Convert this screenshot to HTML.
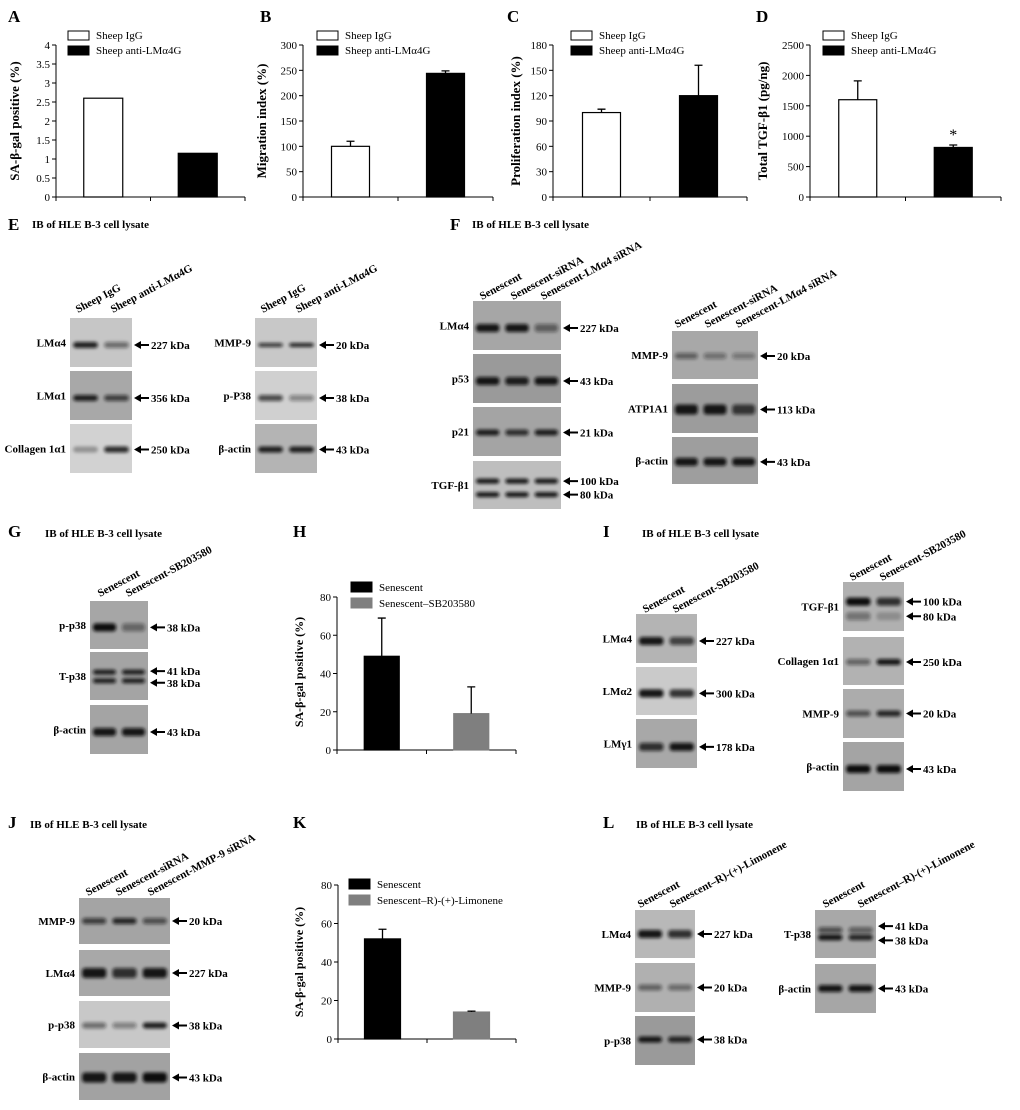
<!DOCTYPE html>
<html><head><meta charset="utf-8">
<style>
html,body{margin:0;padding:0;background:#fff;}
svg{display:block;}
text{font-family:"Liberation Serif",serif;}
.b{font-weight:bold;}
</style></head>
<body>
<svg id="fig" xmlns="http://www.w3.org/2000/svg" width="1020" height="1110" viewBox="0 0 1020 1110">
<defs>
<filter id="blur" x="-30%" y="-200%" width="160%" height="500%"><feGaussianBlur stdDeviation="1.6"/></filter>
<filter id="blur2" x="-20%" y="-20%" width="140%" height="140%"><feGaussianBlur stdDeviation="3"/></filter>
</defs>
</svg>
<script>
// ---------- chart data ----------
const aCats=["Sheep IgG","Sheep anti-LMα4G"];
const aValues=[2.6,1.15];
const aErrs=[0,0];
const aTicks=[0,0.5,1,1.5,2,2.5,3,3.5,4];
const bValues=[100,244];
const bErrs=[10,5];
const bTicks=[0,50,100,150,200,250,300];
const cValues=[100,120];
const cErrs=[4,36];
const cTicks=[0,30,60,90,120,150,180];
const dValues=[1600,815];
const dErrs=[310,40];
const dTicks=[0,500,1000,1500,2000,2500];
const hCats=["Senescent","Senescent–SB203580"];
const hValues=[49,19];
const hErrs=[20,14];
const hTicks=[0,20,40,60,80];
const kCats=["Senescent","Senescent–R)-(+)-Limonene"];
const kValues=[52,14];
const kErrs=[5,0.5];
const kTicks=[0,20,40,60,80];

const NS="http://www.w3.org/2000/svg";
const svg=document.getElementById('fig');
function el(tag,attrs,parent,txt){
  const e=document.createElementNS(NS,tag);
  for(const k in attrs)e.setAttribute(k,attrs[k]);
  if(txt!==undefined)e.textContent=txt;
  (parent||svg).appendChild(e);return e;
}
function label(x,y,t,size,name,anchor,bold){
  const e=el('text',{x:x,y:y,'font-size':size,'text-anchor':anchor||'start','font-weight':bold===false?'normal':'bold'},svg,t);
  
  
  return e;
}

function barChart(c){
  const g=el('g',{});
  
  
  const max=c.ticks[c.ticks.length-1];
  const yS=v=>c.y0-(v/max)*(c.y0-c.yTop);
  const half=(c.xEnd-c.ax)/c.values.length;
  const xC=i=>c.ax+half*(i+0.5);
  // axes
  const ya=el('line',{x1:c.ax,y1:c.yTop,x2:c.ax,y2:c.y0,stroke:'#000','stroke-width':1},g);
  
  const xa=el('line',{x1:c.ax,y1:c.y0,x2:c.xEnd,y2:c.y0,stroke:'#000','stroke-width':1},g);
  
  for(let i=0;i<=c.values.length;i++){
    el('line',{x1:c.ax+half*i,y1:c.y0,x2:c.ax+half*i,y2:c.y0+4,stroke:'#000'},g);
  }
  c.ticks.forEach(t=>{
    const y=yS(t);
    el('line',{x1:c.ax-4,y1:y,x2:c.ax,y2:y,stroke:'#000'},g);
    const tl=el('text',{x:c.ax-6,y:y+4,'font-size':11,'text-anchor':'end'},g,String(t));
    
  });
  c.values.forEach((v,i)=>{
    const x=xC(i)-c.bw/2, y=yS(v);
    const r=el('rect',{x:x,y:y,width:c.bw,height:c.y0-y,fill:c.colors[i],stroke:c.strokes[i],'stroke-width':1.2},g);
    
    const e=c.errs[i];
    if(e>0){
      const ye=yS(v+e);
      const eb=el('path',{d:`M${xC(i)} ${y} V${ye} M${xC(i)-4} ${ye} H${xC(i)+4}`,stroke:'#000','stroke-width':1.3,fill:'none'},g);
      
    }
    if(c.star&&c.star[i]){
      const s=el('text',{x:xC(i),y:yS(v+e)-5,'font-size':16,'text-anchor':'middle'},g,'*');
      
    }
  });
  const tt=el('text',{x:0,y:0,'font-size':c.tsize||13,'font-weight':'bold','text-anchor':'middle',transform:`translate(${c.titleX},${c.titleY}) rotate(-90)`},g,c.title);
  
  c.cats.forEach((cat,i)=>{
    const ly=c.legY+i*c.legDy;
    const lb=el('rect',{x:c.legX,y:ly,width:c.legW,height:c.legH,fill:c.colors[i],stroke:c.strokes[i],'stroke-width':1},g);
    
    const lt=el('text',{x:c.legX+c.legW+7,y:ly+c.legH-1,'font-size':c.lsize||11},g,cat);
    
  });
}
const WB=['#fff','#000'],SB=['#000','#000'];
barChart({name:'chart-a',ax:56,xEnd:245,yTop:45,y0:197,ticks:aTicks,values:aValues,errs:aErrs,bw:39,colors:WB,strokes:SB,cats:aCats,legX:68,legY:31,legDy:15,legW:21,legH:9,title:'SA-β-gal positive (%)',titleX:19,titleY:121});
barChart({name:'chart-b',ax:303,xEnd:493,yTop:45,y0:197,ticks:bTicks,values:bValues,errs:bErrs,bw:38,colors:WB,strokes:SB,cats:aCats,legX:317,legY:31,legDy:15,legW:21,legH:9,title:'Migration index (%)',titleX:266,titleY:121});
barChart({name:'chart-c',ax:553,xEnd:747,yTop:45,y0:197,ticks:cTicks,values:cValues,errs:cErrs,bw:38,colors:WB,strokes:SB,cats:aCats,legX:571,legY:31,legDy:15,legW:21,legH:9,title:'Proliferation index (%)',titleX:520,titleY:121});
barChart({name:'chart-d',ax:810,xEnd:1001,yTop:45,y0:197,ticks:dTicks,values:dValues,errs:dErrs,bw:38,colors:WB,strokes:SB,cats:aCats,legX:823,legY:31,legDy:15,legW:21,legH:9,title:'Total TGF-β1 (pg/ng)',titleX:767,titleY:121,star:[false,true]});
const BG=['#000','#7f7f7f'],BGS=['#000','#7f7f7f'];
barChart({name:'chart-h',ax:337,xEnd:516,yTop:597,y0:750,ticks:hTicks,values:hValues,errs:hErrs,bw:35,colors:BG,strokes:BGS,cats:hCats,legX:351,legY:582,legDy:16,legW:21,legH:10,title:'SA-β-gal positive (%)',titleX:303,titleY:672,tsize:12});
barChart({name:'chart-k',ax:338,xEnd:516,yTop:885,y0:1039,ticks:kTicks,values:kValues,errs:kErrs,bw:36,colors:BG,strokes:BGS,cats:kCats,legX:349,legY:879,legDy:16,legW:21,legH:10,title:'SA-β-gal  positive (%)',titleX:303,titleY:962,tsize:12});

// ---------- panel letters & titles ----------
[['A',8,22],['B',260,22],['C',507,22],['D',756,22],['E',8,230],['F',450,230],['G',8,537],['H',293,537],['I',603,537],['J',8,828],['K',293,828],['L',603,828]].forEach(p=>{
  label(p[1],p[2],p[0],17,'panel-label-'+p[0].toLowerCase());
});
[[32,228],[472,228],[45,537],[642,537],[30,828],[636,828]].forEach(p=>{
  label(p[0],p[1],'IB of HLE B-3 cell lysate',11,'blot-title');
});

// ---------- western blots ----------
function blot(b){
  const g=el('g',{});
  
  
  const w=b.x2-b.x1, h=b.y2-b.y1, n=b.lanes.length;
  const r=el('rect',{x:b.x1,y:b.y1,width:w,height:h,fill:b.bg||'#bcbcbc'},g);
  
  const lw=w/n;
  b.bands.forEach((bd,k)=>{
    b.lanes.forEach((v,i)=>{
      const inten=Array.isArray(v)?v[k]:v;
      const bb=el('rect',{x:b.x1+lw*i+lw*0.1,y:b.y1+h*bd-(b.bh||3),width:lw*0.8,height:(b.bh||3)*2,rx:3,fill:'#111','fill-opacity':inten,filter:'url(#blur)'},g);
      
    });
    const ay=b.y1+h*bd+(b.ady?b.ady[k]:0);
    const ar=el('path',{d:`M${b.x2+2} ${ay} l7 -4 v3 h8 v2 h-8 v3 z`,fill:'#000'},g);
    
    const kt=el('text',{x:b.x2+19,y:ay+4,'font-size':11,'font-weight':'bold'},g,b.kda[k]);
    
  });
  const lt=el('text',{x:b.x1-4,y:(b.y1+b.y2)/2+4,'font-size':11,'font-weight':'bold','text-anchor':'end'},g,b.label);
  
}
function headers(xs,y,names){
  xs.forEach((x,i)=>{
    const t=el('text',{x:0,y:0,'font-size':11,'font-weight':'bold',transform:`translate(${x},${y}) rotate(-28)`},svg,names[i]);
    
  });
}
const SHEEP=['Sheep IgG','Sheep anti-LMα4G'];
const S3=['Senescent','Senescent-siRNA','Senescent-LMα4 siRNA'];
const SB2=['Senescent','Senescent-SB203580'];
const LIM=['Senescent','Senescent–R)-(+)-Limonene'];
// E
headers([78,113],313,SHEEP);headers([263,298],313,SHEEP);
blot({name:'blot-e-lma4',label:'LMα4',x1:70,x2:132,y1:318,y2:367,bg:'#c6c6c6',lanes:[0.9,0.5],bands:[0.55],kda:['227 kDa']});
blot({name:'blot-e-lma1',label:'LMα1',x1:70,x2:132,y1:371,y2:420,bg:'#a8a8a8',lanes:[0.9,0.7],bands:[0.55],kda:['356 kDa']});
blot({name:'blot-e-col',label:'Collagen 1α1',x1:70,x2:132,y1:424,y2:473,bg:'#d2d2d2',lanes:[0.3,0.85],bands:[0.52],kda:['250 kDa']});
blot({name:'blot-e-mmp9',label:'MMP-9',x1:255,x2:317,y1:318,y2:367,bg:'#c8c8c8',lanes:[0.8,0.9],bands:[0.55],bh:2,kda:['20 kDa']});
blot({name:'blot-e-pp38',label:'p-P38',x1:255,x2:317,y1:371,y2:420,bg:'#d0d0d0',lanes:[0.7,0.4],bands:[0.55],kda:['38 kDa']});
blot({name:'blot-e-actin',label:'β-actin',x1:255,x2:317,y1:424,y2:473,bg:'#b4b4b4',lanes:[0.9,0.9],bands:[0.52],kda:['43 kDa']});
// F
headers([482,513,543],300,S3);headers([677,707,738],328,S3);
blot({name:'blot-f-lma4',label:'LMα4',x1:473,x2:561,y1:301,y2:350,bg:'#a6a6a6',lanes:[0.95,0.95,0.5],bands:[0.55],bh:4,kda:['227 kDa']});
blot({name:'blot-f-p53',label:'p53',x1:473,x2:561,y1:354,y2:403,bg:'#9a9a9a',lanes:[0.95,0.9,0.95],bands:[0.55],bh:4,kda:['43 kDa']});
blot({name:'blot-f-p21',label:'p21',x1:473,x2:561,y1:407,y2:456,bg:'#a4a4a4',lanes:[0.9,0.8,0.9],bands:[0.52],kda:['21 kDa']});
blot({name:'blot-f-tgf',label:'TGF-β1',x1:473,x2:561,y1:461,y2:509,bg:'#bebebe',lanes:[0.95,0.95,0.95],bands:[0.42,0.7],bh:2.5,kda:['100 kDa','80 kDa']});
blot({name:'blot-f-mmp9',label:'MMP-9',x1:672,x2:758,y1:331,y2:379,bg:'#a8a8a8',lanes:[0.5,0.4,0.35],bands:[0.52],kda:['20 kDa']});
blot({name:'blot-f-atp',label:'ATP1A1',x1:672,x2:758,y1:384,y2:433,bg:'#9c9c9c',lanes:[0.95,0.95,0.75],bands:[0.52],bh:5,kda:['113 kDa']});
blot({name:'blot-f-actin',label:'β-actin',x1:672,x2:758,y1:437,y2:484,bg:'#9e9e9e',lanes:[0.95,0.95,0.95],bands:[0.53],bh:4,kda:['43 kDa']});
// G
headers([100,128],597,SB2);
blot({name:'blot-g-pp38',label:'p-p38',x1:90,x2:148,y1:601,y2:649,bg:'#a6a6a6',lanes:[1,0.45],bands:[0.55],bh:4,kda:['38 kDa']});
blot({name:'blot-g-tp38',label:'T-p38',x1:90,x2:148,y1:652,y2:700,bg:'#a4a4a4',lanes:[0.9,0.9],bands:[0.42,0.6],bh:2.5,ady:[-1,2],kda:['41 kDa','38 kDa']});
blot({name:'blot-g-actin',label:'β-actin',x1:90,x2:148,y1:705,y2:754,bg:'#a4a4a4',lanes:[0.95,0.95],bands:[0.55],bh:4,kda:['43 kDa']});
// I
headers([645,675],613,SB2);headers([852,882],581,SB2);
blot({name:'blot-i-lma4',label:'LMα4',x1:636,x2:697,y1:614,y2:663,bg:'#b4b4b4',lanes:[0.95,0.7],bands:[0.55],bh:4,kda:['227 kDa']});
blot({name:'blot-i-lma2',label:'LMα2',x1:636,x2:697,y1:667,y2:715,bg:'#cacaca',lanes:[0.95,0.8],bands:[0.55],bh:4,kda:['300 kDa']});
blot({name:'blot-i-lmg1',label:'LMγ1',x1:636,x2:697,y1:719,y2:768,bg:'#a8a8a8',lanes:[0.8,0.95],bands:[0.57],bh:4,kda:['178 kDa']});
blot({name:'blot-i-tgf',label:'TGF-β1',x1:843,x2:904,y1:582,y2:631,bg:'#b0b0b0',lanes:[[1,0.4],[0.8,0.2]],bands:[0.4,0.7],bh:4,kda:['100 kDa','80 kDa']});
blot({name:'blot-i-col',label:'Collagen 1α1',x1:843,x2:904,y1:637,y2:685,bg:'#b2b2b2',lanes:[0.5,0.95],bands:[0.52],kda:['250 kDa']});
blot({name:'blot-i-mmp9',label:'MMP-9',x1:843,x2:904,y1:689,y2:738,bg:'#acacac',lanes:[0.6,0.85],bands:[0.5],kda:['20 kDa']});
blot({name:'blot-i-actin',label:'β-actin',x1:843,x2:904,y1:742,y2:791,bg:'#a4a4a4',lanes:[1,1],bands:[0.55],bh:4,kda:['43 kDa']});
// J
headers([88,118,150],896,['Senescent','Senescent-siRNA','Senescent-MMP-9 siRNA']);
blot({name:'blot-j-mmp9',label:'MMP-9',x1:79,x2:170,y1:898,y2:944,bg:'#a4a4a4',lanes:[0.7,0.85,0.6],bands:[0.5],kda:['20 kDa']});
blot({name:'blot-j-lma4',label:'LMα4',x1:79,x2:170,y1:950,y2:996,bg:'#a8a8a8',lanes:[0.95,0.8,0.95],bands:[0.5],bh:5,kda:['227 kDa']});
blot({name:'blot-j-pp38',label:'p-p38',x1:79,x2:170,y1:1001,y2:1048,bg:'#c8c8c8',lanes:[0.5,0.4,0.9],bands:[0.52],kda:['38 kDa']});
blot({name:'blot-j-actin',label:'β-actin',x1:79,x2:170,y1:1053,y2:1100,bg:'#a2a2a2',lanes:[0.95,0.95,1],bands:[0.52],bh:5,kda:['43 kDa']});
// L
headers([640,672],908,LIM);headers([825,860],908,LIM);
blot({name:'blot-l-lma4',label:'LMα4',x1:635,x2:695,y1:910,y2:958,bg:'#b8b8b8',lanes:[0.95,0.8],bands:[0.5],bh:4,kda:['227 kDa']});
blot({name:'blot-l-mmp9',label:'MMP-9',x1:635,x2:695,y1:963,y2:1012,bg:'#b0b0b0',lanes:[0.5,0.45],bands:[0.5],kda:['20 kDa']});
blot({name:'blot-l-pp38',label:'p-p38',x1:635,x2:695,y1:1016,y2:1065,bg:'#9a9a9a',lanes:[0.95,0.85],bands:[0.48],kda:['38 kDa']});
blot({name:'blot-l-tp38',label:'T-p38',x1:815,x2:876,y1:910,y2:958,bg:'#a8a8a8',lanes:[[0.6,0.95],[0.5,0.85]],bands:[0.42,0.57],bh:3,ady:[-4,3],kda:['41 kDa','38 kDa']});
blot({name:'blot-l-actin',label:'β-actin',x1:815,x2:876,y1:964,y2:1013,bg:'#a6a6a6',lanes:[0.95,0.95],bands:[0.5],bh:3.5,kda:['43 kDa']});
</script>
</body></html>
